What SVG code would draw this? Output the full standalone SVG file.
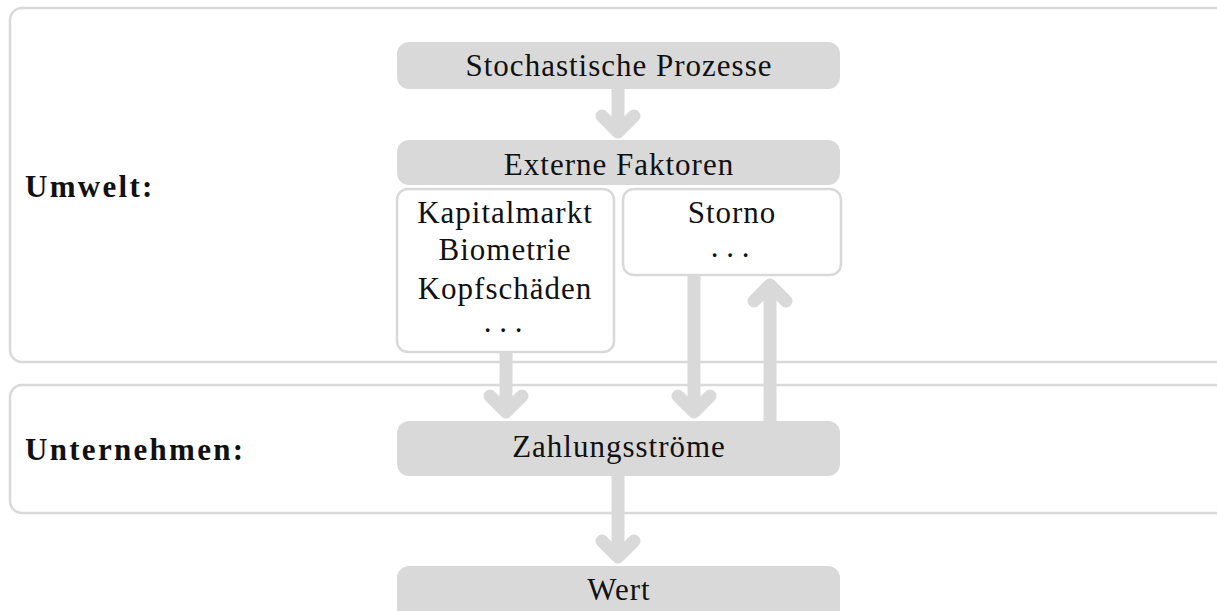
<svg xmlns="http://www.w3.org/2000/svg" width="1217" height="611" viewBox="0 0 1217 611">
<style>
.frame{fill:#fff;stroke:#d9d9d9;stroke-width:2.5}
.gbox{fill:#d9d9d9}
.wbox{fill:#fff;stroke:#d9d9d9;stroke-width:2.5}
.t{font-family:"Liberation Serif","Times New Roman",serif;font-size:31px;letter-spacing:1px;fill:#111;text-anchor:middle}
.dots{font-family:"Liberation Serif","Times New Roman",serif;font-size:31px;letter-spacing:0;fill:#111;text-anchor:middle}
.lbl{font-family:"Liberation Serif","Times New Roman",serif;font-size:31px;letter-spacing:2.3px;font-weight:bold;fill:#111}
.arr{fill:none;stroke:#d9d9d9;stroke-width:13;stroke-linecap:round;stroke-linejoin:round}
.shaft{fill:none;stroke:#d9d9d9;stroke-width:13}
</style>
<g id="umwelt">
<rect class="frame" x="10" y="8" width="1240" height="354" rx="12"/>
<text class="lbl" x="25" y="197">Umwelt:</text>
</g>
<g id="unternehmen">
<rect class="frame" x="10" y="385" width="1240" height="128" rx="12"/>
<text class="lbl" x="25" y="460">Unternehmen:</text>
</g>
<g id="stochastische">
<rect class="gbox" x="397" y="42" width="443" height="47" rx="12"/>
<text class="t" x="619" y="76">Stochastische Prozesse</text>
</g>
<g id="externe">
<rect class="gbox" x="397" y="140" width="443" height="45" rx="12"/>
<text class="t" x="619" y="175">Externe Faktoren</text>
</g>
<g id="kapitalmarkt">
<rect class="wbox" x="397" y="189" width="217" height="163" rx="11"/>
<text class="t" x="505" y="223">Kapitalmarkt</text>
<text class="t" x="505" y="260">Biometrie</text>
<text class="t" x="505" y="299">Kopfschäden</text>
<text class="dots" x="503" y="332">. . .</text>
</g>
<g id="storno">
<rect class="wbox" x="623" y="189" width="218" height="86" rx="11"/>
<text class="t" x="732" y="223">Storno</text>
<text class="dots" x="730" y="257">. . .</text>
</g>
<g id="zahlungsstroeme">
<rect class="gbox" x="397" y="421" width="443" height="55" rx="12"/>
<text class="t" x="619" y="457">Zahlungsströme</text>
</g>
<g id="wert">
<rect class="gbox" x="397" y="566" width="443" height="60" rx="12"/>
<text class="t" x="619" y="600">Wert</text>
</g>
<g id="connectors">
<line class="shaft" x1="618" y1="89" x2="618" y2="132"/>
<path class="arr" d="M602,116 L618,132 L634,116"/>
<line class="shaft" x1="506" y1="352" x2="506" y2="412"/>
<path class="arr" d="M490,396 L506,412 L522,396"/>
<line class="shaft" x1="694" y1="275" x2="694" y2="412"/>
<path class="arr" d="M678,396 L694,412 L710,396"/>
<line class="shaft" x1="770" y1="421" x2="770" y2="285"/>
<path class="arr" d="M754,301 L770,285 L786,301"/>
<line class="shaft" x1="618" y1="476" x2="618" y2="557"/>
<path class="arr" d="M602,541 L618,557 L634,541"/>
</g>
</svg>
